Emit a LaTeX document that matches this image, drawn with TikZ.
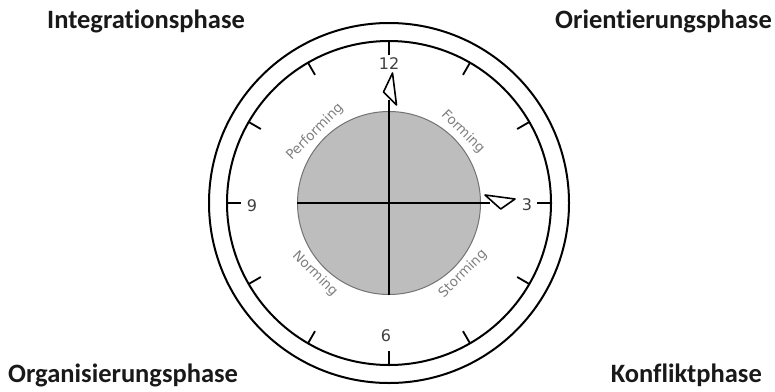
\documentclass[tikz,border=0pt]{standalone}
\usepackage{fontspec}
\setmainfont{Carlito}[Ligatures={NoCommon}]
\newfontfamily\dejavu{DejaVu Sans}
\begin{document}
\begin{tikzpicture}[x=1pt,y=-1pt,
  ring/.style={draw=black,line width=2pt},
  tickline/.style={draw=black,line width=1.8pt},
  hand/.style={draw=black,line width=1.4pt},
  handtip/.style={draw=black,line width=1.6pt,line join=round,fill=white},
  phase/.style={font=\bfseries\fontsize{26.5}{30}\selectfont,text=black!90,inner sep=0pt},
  hour/.style={font=\dejavu\fontsize{16}{18}\selectfont,text=black!75,inner sep=1pt},
  stage/.style={font=\dejavu\fontsize{13.5}{15}\selectfont,text=black!50,inner sep=0pt}]
\useasboundingbox (0,0) rectangle (775,391);
\coordinate (c) at (389,203);
\draw[ring] (c) circle[radius=180];
\draw[ring] (c) circle[radius=162];
\foreach \a in {0,30,...,330} \draw[tickline] (c) ++(\a:148) -- ++(\a:14);
\node[circle,minimum size=183pt,inner sep=0pt,fill=black!26,draw=black!55,line width=1pt] (face) at (c) {};
% cross / hands
\coordinate (mtip) at (389,100);
\coordinate (htip) at (490,203);
\draw[hand] (face.south) -- (mtip);
\draw[hand] (face.west) -- (htip);
\draw[handtip] (392.5,73) -- (383.5,92) -- (396.5,105) -- cycle;
\draw[handtip] (485,195) -- (515,199) -- (500.7,209) -- cycle;
% hour numbers
\node[hour] (h12) at (389,64) {12};
\node[hour] (h3) at (527,205) {3};
\node[hour] (h6) at (386,336) {6};
\node[hour] (h9) at (252,206) {9};
% stages
\node[stage,rotate=-45] (forming) at (463,132) {Forming};
\node[stage,rotate=45] (performing) at (315,132) {Performing};
\node[stage,rotate=-45] (norming) at (315,274) {Norming};
\node[stage,rotate=45] (storming) at (463,274) {Storming};
% phases
\node[phase,anchor=base west] (integ) at (47,28) {Integrationsphase};
\node[phase,anchor=base east] (orient) at (772,28) {Orientierungsphase};
\node[phase,anchor=base west] (organ) at (8,382) {Organisierungsphase};
\node[phase,anchor=base east] (konf) at (762,382) {Konfliktphase};
\end{tikzpicture}
\end{document}
